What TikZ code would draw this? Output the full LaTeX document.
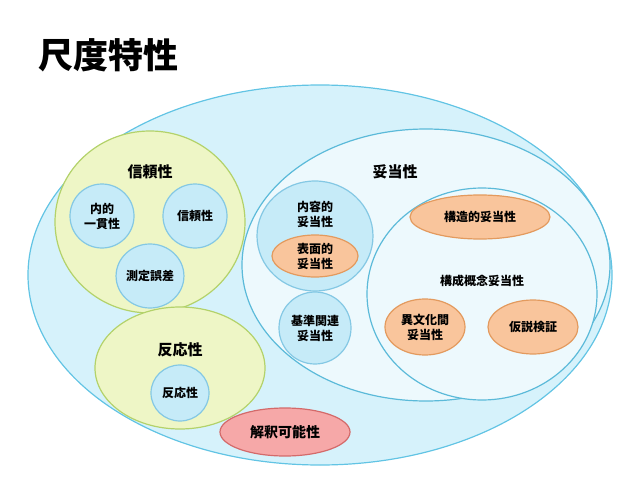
\documentclass[tikz,border=0pt]{standalone}
\usepackage{fontspec}
\setmainfont{Noto Sans CJK JP}
\usetikzlibrary{shapes.geometric}
\definecolor{bigF}{HTML}{D6F2FB}\definecolor{bigD}{HTML}{62C4E4}
\definecolor{grF}{HTML}{EEF6C6}\definecolor{grD}{HTML}{B3D26A}
\definecolor{blF}{HTML}{C6EBF8}\definecolor{blD}{HTML}{84C8E4}
\definecolor{wF}{HTML}{EDF9FD}\definecolor{wD}{HTML}{5BBAD9}
\definecolor{orF}{HTML}{F9C59C}\definecolor{orD}{HTML}{E39A5E}
\definecolor{pkF}{HTML}{F6A8A8}\definecolor{pkD}{HTML}{D46A6A}
\tikzset{
 ell/.style={ellipse,inner sep=0pt,line width=1.2pt},
 big/.style={ell,draw=bigD,fill=bigF},
 grn/.style={ell,draw=grD,fill=grF},
 blu/.style={ell,draw=blD,fill=blF,font=\fontsize{12}{15}\selectfont\bfseries,align=center},
 wht/.style={ell,draw=wD,fill=wF},
 org/.style={ell,draw=orD,fill=orF,font=\fontsize{12}{15}\selectfont\bfseries,align=center},
 pnk/.style={ell,draw=pkD,fill=pkF,font=\fontsize{14}{17}\selectfont\bfseries},
 lab/.style={font=\fontsize{15}{18}\selectfont\bfseries,align=center},
 slab/.style={font=\fontsize{12}{15}\selectfont\bfseries,align=center}
}
\begin{document}
\begin{tikzpicture}[x=1pt,y=-1pt]
\useasboundingbox (0,0) rectangle (638,479);
\node[font=\fontsize{35}{40}\selectfont\bfseries,anchor=west,inner sep=0pt] (title) at (38,55) {尺度特性};
\node[big,minimum width=584pt,minimum height=380pt] (all) at (320,275) {};
\node[grn,minimum width=190pt,minimum height=182pt] (rel) at (150,222) {};
\node[lab] (rell) at (150,172) {信頼性};
\node[blu,minimum width=64pt,minimum height=64pt] (ic) at (102,216) {内的\\一貫性};
\node[blu,minimum width=64pt,minimum height=64pt] (rr) at (195,216) {信頼性};
\node[blu,minimum width=64pt,minimum height=64pt] (me) at (150,276) {測定誤差};
\node[grn,minimum width=170pt,minimum height=122pt] (resp) at (180,368) {};
\node[lab] (respl) at (180,350) {反応性};
\node[blu,minimum width=58pt,minimum height=56pt] (rp) at (180,393) {反応性};
\node[wht,minimum width=368pt,minimum height=272pt] (val) at (426,265) {};
\node[lab] (vall) at (395,172) {妥当性};
\node[blu,minimum width=116pt,minimum height=110pt] (cv) at (315,236) {};
\node[slab] (cvl) at (315,214) {内容的\\妥当性};
\node[org,minimum width=86pt,minimum height=42pt] (fv) at (315,256) {表面的\\妥当性};
\node[blu,minimum width=72pt,minimum height=72pt] (crv) at (315,328) {基準関連\\妥当性};
\node[wht,minimum width=230pt,minimum height=212pt] (cons) at (482,294) {};
\node[slab] (consl) at (482,281) {構成概念妥当性};
\node[org,minimum width=140pt,minimum height=44pt] (sv) at (480,217) {構造的妥当性};
\node[org,minimum width=80pt,minimum height=56pt] (xv) at (425,327) {異文化間\\妥当性};
\node[org,minimum width=90pt,minimum height=54pt] (hv) at (533,327) {仮説検証};
\node[pnk,minimum width=130pt,minimum height=48pt] (int) at (285,432) {解釈可能性};
\end{tikzpicture}
\end{document}
